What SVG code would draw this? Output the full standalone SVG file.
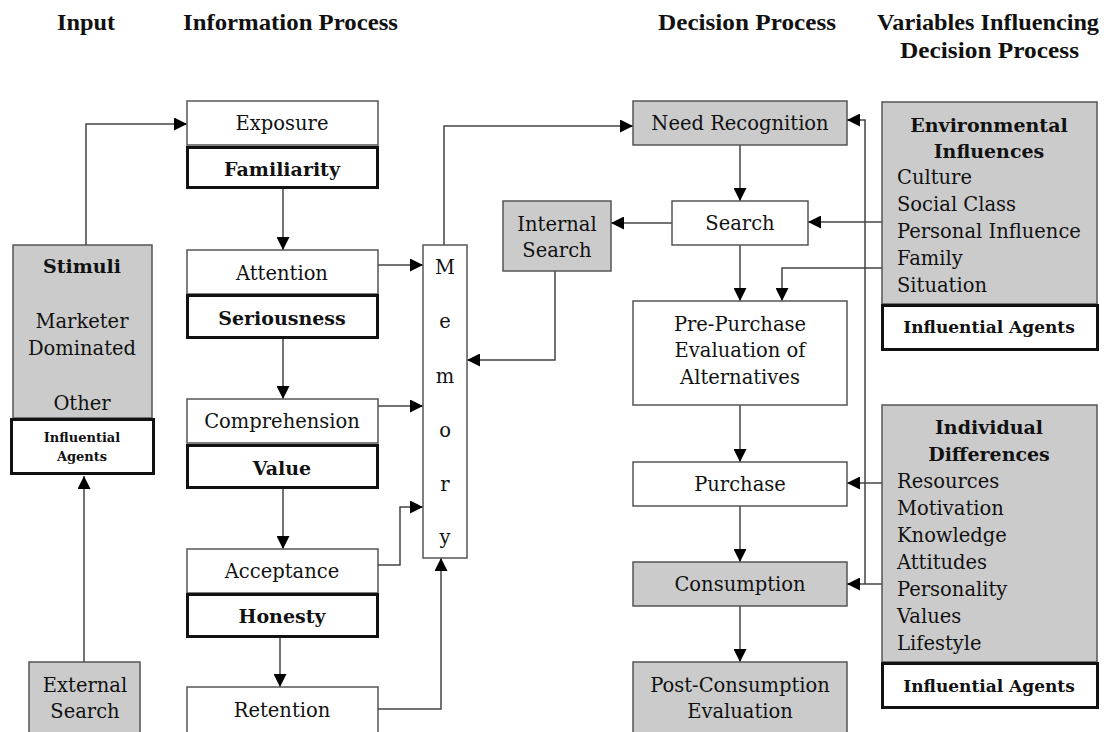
<svg xmlns="http://www.w3.org/2000/svg" width="1110" height="732" viewBox="0 0 1110 732">
<defs>
<marker id="ah" viewBox="0 0 13 13" refX="13" refY="6.5" markerWidth="13" markerHeight="13" markerUnits="userSpaceOnUse" orient="auto">
<path d="M0,0 L13,6.5 L0,13 z" fill="#000"/>
</marker>
<style>
.t{font-family:"DejaVu Serif","Liberation Serif",serif;font-size:19.5px;fill:#111;text-anchor:middle}
.l{text-anchor:start}
.b{font-weight:bold;font-size:19px}
.s{font-weight:bold;font-size:13px}
.a{font-weight:bold;font-size:17px}
.h{font-family:"Liberation Serif","DejaVu Serif",serif;font-weight:bold;font-size:23px;fill:#111}
.w{fill:#fff;stroke:#555;stroke-width:1.5}
.g{fill:#cbcbcb;stroke:#555;stroke-width:1.5}
.k{fill:#fff;stroke:#111;stroke-width:3}
.c{fill:none;stroke:#444;stroke-width:1.5;marker-end:url(#ah)}
</style>
</defs>
<rect width="1110" height="732" fill="#fff"/>
<g id="headers">
<text class="h" x="57" y="30" textLength="58" lengthAdjust="spacingAndGlyphs">Input</text>
<text class="h" x="183" y="30" textLength="215" lengthAdjust="spacingAndGlyphs">Information Process</text>
<text class="h" x="658" y="30" textLength="178" lengthAdjust="spacingAndGlyphs">Decision Process</text>
<text class="h" x="877" y="30" textLength="222" lengthAdjust="spacingAndGlyphs">Variables Influencing</text>
<text class="h" x="900" y="58" textLength="179" lengthAdjust="spacingAndGlyphs">Decision Process</text>
</g>
<g id="connectors">
<path class="c" d="M86,245 V124 H187"/>
<path class="c" d="M84,662 V476"/>
<path class="c" d="M283,189 V250"/>
<path class="c" d="M283,338 V399"/>
<path class="c" d="M283,488 V549"/>
<path class="c" d="M280,637 V687"/>
<path class="c" d="M378,265 H423"/>
<path class="c" d="M378,406 H423"/>
<path class="c" d="M378,565 H400 V507 H423"/>
<path class="c" d="M378,709 H441 V558"/>
<path class="c" d="M444,245 V126 H633"/>
<path class="c" d="M740,145 V201"/>
<path class="c" d="M672,223 H611"/>
<path class="c" d="M555,271 V360 H467"/>
<path class="c" d="M740,245 V301"/>
<path class="c" d="M882,268 H782 V301"/>
<path class="c" d="M882,222 H808"/>
<path class="c" d="M865,584 V120 H847"/>
<path class="c" d="M882,584 H847"/>
<path class="c" d="M882,483 H847"/>
<path class="c" d="M740,405 V462"/>
<path class="c" d="M740,506 V562"/>
<path class="c" d="M740,606 V662"/>
</g>
<g id="stimuli">
<rect class="g" x="13" y="245" width="139" height="173"/>
<text class="t b" x="82" y="273">Stimuli</text>
<text class="t" x="82" y="328">Marketer</text>
<text class="t" x="82" y="355">Dominated</text>
<text class="t" x="82" y="410">Other</text>
</g>
<g id="stimuli-agents">
<rect class="k" x="11.5" y="419.5" width="142" height="54"/>
<text class="t s" x="82" y="442">Influential</text>
<text class="t s" x="82" y="461">Agents</text>
</g>
<g id="external-search">
<rect class="g" x="29" y="662" width="111" height="80"/>
<text class="t" x="85" y="692">External</text>
<text class="t" x="85" y="718">Search</text>
</g>
<g id="exposure">
<rect class="w" x="187" y="101" width="191" height="44"/>
<text class="t" x="282" y="130">Exposure</text>
</g>
<g id="familiarity">
<rect class="k" x="187.5" y="147.5" width="190" height="40"/>
<text class="t b" x="282" y="176">Familiarity</text>
</g>
<g id="attention">
<rect class="w" x="187" y="250" width="191" height="44"/>
<text class="t" x="282" y="280">Attention</text>
</g>
<g id="seriousness">
<rect class="k" x="187.5" y="295.5" width="190" height="42"/>
<text class="t b" x="282" y="325">Seriousness</text>
</g>
<g id="comprehension">
<rect class="w" x="187" y="399" width="191" height="44"/>
<text class="t" x="282" y="428">Comprehension</text>
</g>
<g id="value">
<rect class="k" x="187.5" y="445.5" width="190" height="42"/>
<text class="t b" x="282" y="475">Value</text>
</g>
<g id="acceptance">
<rect class="w" x="187" y="549" width="191" height="44"/>
<text class="t" x="282" y="578">Acceptance</text>
</g>
<g id="honesty">
<rect class="k" x="187.5" y="594.5" width="190" height="42"/>
<text class="t b" x="282" y="623">Honesty</text>
</g>
<g id="retention">
<rect class="w" x="187" y="687" width="191" height="55"/>
<text class="t" x="282" y="717">Retention</text>
</g>
<g id="memory">
<rect class="w" x="423" y="245" width="44" height="313"/>
<text class="t" x="445" y="274">M</text>
<text class="t" x="445" y="328">e</text>
<text class="t" x="445" y="383">m</text>
<text class="t" x="445" y="437">o</text>
<text class="t" x="445" y="491">r</text>
<text class="t" x="445" y="544">y</text>
</g>
<g id="need-recognition">
<rect class="g" x="633" y="101" width="214" height="44"/>
<text class="t" x="740" y="130">Need Recognition</text>
</g>
<g id="search">
<rect class="w" x="672" y="201" width="136" height="44"/>
<text class="t" x="740" y="230">Search</text>
</g>
<g id="internal-search">
<rect class="g" x="503" y="201" width="108" height="70"/>
<text class="t" x="557" y="231">Internal</text>
<text class="t" x="557" y="257">Search</text>
</g>
<g id="pre-purchase">
<rect class="w" x="633" y="301" width="214" height="104"/>
<text class="t" x="740" y="331">Pre-Purchase</text>
<text class="t" x="740" y="357">Evaluation of</text>
<text class="t" x="740" y="384">Alternatives</text>
</g>
<g id="purchase">
<rect class="w" x="633" y="462" width="214" height="44"/>
<text class="t" x="740" y="491">Purchase</text>
</g>
<g id="consumption">
<rect class="g" x="633" y="562" width="214" height="44"/>
<text class="t" x="740" y="591">Consumption</text>
</g>
<g id="post-consumption">
<rect class="g" x="633" y="662" width="214" height="80"/>
<text class="t" x="740" y="692">Post-Consumption</text>
<text class="t" x="740" y="718">Evaluation</text>
</g>
<g id="environmental">
<rect class="g" x="882" y="102" width="215" height="202"/>
<text class="t b" x="989" y="132">Environmental</text>
<text class="t b" x="989" y="158">Influences</text>
<text class="t l" x="897" y="184">Culture</text>
<text class="t l" x="897" y="211">Social Class</text>
<text class="t l" x="897" y="238">Personal Influence</text>
<text class="t l" x="897" y="265">Family</text>
<text class="t l" x="897" y="292">Situation</text>
</g>
<g id="env-agents">
<rect class="k" x="882.5" y="305.5" width="215" height="44"/>
<text class="t a" x="989" y="333">Influential Agents</text>
</g>
<g id="individual">
<rect class="g" x="882" y="405" width="215" height="257"/>
<text class="t b" x="989" y="434">Individual</text>
<text class="t b" x="989" y="461">Differences</text>
<text class="t l" x="897" y="488">Resources</text>
<text class="t l" x="897" y="515">Motivation</text>
<text class="t l" x="897" y="542">Knowledge</text>
<text class="t l" x="897" y="569">Attitudes</text>
<text class="t l" x="897" y="596">Personality</text>
<text class="t l" x="897" y="623">Values</text>
<text class="t l" x="897" y="650">Lifestyle</text>
</g>
<g id="ind-agents">
<rect class="k" x="882.5" y="663.5" width="215" height="44"/>
<text class="t a" x="989" y="692">Influential Agents</text>
</g>
</svg>
